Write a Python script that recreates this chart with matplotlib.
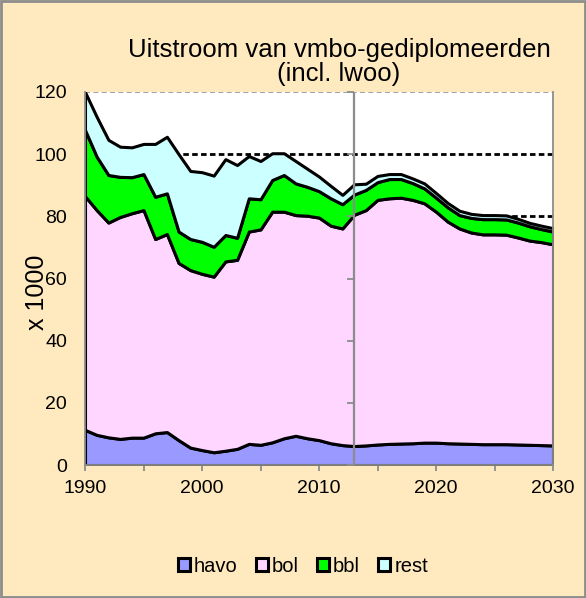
import matplotlib
matplotlib.use("Agg")
import matplotlib.pyplot as plt
from matplotlib.patches import Rectangle
import numpy as np

plt.rcParams['font.family'] = ['Liberation Sans', 'DejaVu Sans']

years = list(range(1990, 2031))

# cumulative tops (x 1000)
havo = [11.3, 9.7, 8.9, 8.4, 8.8, 8.8, 10.2, 10.6, 8.0, 5.6,
        4.8, 4.1, 4.6, 5.2, 6.8, 6.5, 7.3, 8.6, 9.4, 8.6,
        8.0, 7.0, 6.4, 6.1, 6.3, 6.6, 6.8, 6.9, 7.0, 7.2,
        7.2, 7.0, 6.9, 6.8, 6.7, 6.7, 6.7, 6.6, 6.5, 6.4, 6.3]
bol_top = [86.5, 82.0, 78.0, 79.8, 81.0, 82.0, 72.7, 74.3, 65.0, 62.7,
           61.5, 60.6, 65.5, 66.0, 75.1, 75.8, 81.5, 81.5, 80.4, 80.2,
           79.6, 77.0, 76.1, 80.5, 82.0, 85.3, 85.8, 86.0, 85.3, 84.2,
           81.5, 78.3, 76.1, 74.8, 74.2, 74.2, 74.1, 73.2, 72.2, 71.7, 71.0]
bbl_top = [107.8, 99.2, 93.3, 92.7, 92.6, 93.6, 86.3, 87.4, 75.1, 72.7,
           71.8, 70.2, 74.0, 73.1, 85.8, 85.5, 91.7, 93.3, 90.6, 89.5,
           88.1, 85.8, 83.9, 87.0, 88.5, 91.0, 92.0, 92.0, 90.7, 89.0,
           86.0, 82.9, 80.4, 79.5, 79.1, 79.1, 79.0, 78.0, 76.8, 75.9, 75.1]
total = [120.0, 112.0, 104.6, 102.4, 102.2, 103.3, 103.3, 105.6, 100.0, 94.6,
         94.2, 93.1, 98.4, 96.5, 99.4, 97.8, 100.3, 100.3, 97.8, 95.3,
         92.8, 89.8, 86.9, 90.3, 90.5, 93.0, 93.6, 93.6, 92.2, 90.6,
         87.5, 84.3, 81.8, 80.8, 80.4, 80.4, 80.3, 79.2, 77.9, 77.0, 76.2]

bol = [b - h for b, h in zip(bol_top, havo)]
bbl = [b - o for b, o in zip(bbl_top, bol_top)]
rest = [t - b for t, b in zip(total, bbl_top)]

labels = ['havo', 'bol', 'bbl', 'rest']
colors = ['#9999FF', '#FFD6FF', '#00FF00', '#CCFFFF']
ref_levels = [100, 80]
split_year = 2013

bg = '#FFE9BF'
fig = plt.figure(figsize=(5.86, 5.98), dpi=100, facecolor=bg)
ax = fig.add_axes([85/586, 1-465/598, 468/586, 373/598])
ax.set_facecolor('white')

for lv in ref_levels:
    ax.axhline(lv, color='black', lw=2, linestyle=(0, (2, 1.2)), zorder=1)
ax.axhline(120, color='#909090', lw=1.2, linestyle=(0, (3, 2)), zorder=1)

polys = ax.stackplot(years, havo, bol, bbl, rest, colors=colors, labels=labels,
                     edgecolor='black', linewidth=2.2, zorder=2)

ax.axvline(split_year, color='#8C8C8C', lw=1.6, zorder=3)
ax.plot([split_year]*7, list(range(0, 121, 20)), linestyle='none', marker=0,
        markersize=5, color='#8C8C8C', markeredgewidth=1.3, zorder=3, clip_on=False)

ax.set_xlim(1990, 2030)
ax.set_ylim(0, 120)
ax.set_xticks(range(1990, 2031, 10))
ax.set_xticks(range(1990, 2031, 5), minor=True)
ax.set_yticks(range(0, 121, 20))
ax.tick_params(axis='x', which='both', length=4, width=1.3, color='#8C8C8C',
               labelsize=14, pad=7)
ax.tick_params(axis='y', length=0, labelsize=14, pad=13)
for s in ['top']:
    ax.spines[s].set_visible(False)
for s in ['left', 'right', 'bottom']:
    ax.spines[s].set_color('#8C8C8C')
    ax.spines[s].set_linewidth(1.3)

fig.text(339/586, 1-62/598, 'Uitstroom van vmbo-gediplomeerden\n(incl. lwoo)',
         ha='center', va='center', fontsize=18.5, linespacing=1.05)
fig.text(37/586, 1-292/598, 'x 1000', rotation=90, ha='center', va='center',
         fontsize=18)

fig.legend(handles=polys, labels=labels, loc='center', bbox_to_anchor=(303/586, 1-566/598),
           ncol=4, frameon=False, fontsize=14.5, handlelength=0.6, handleheight=0.6,
           handletextpad=0.2, columnspacing=0.9)

fig.add_artist(Rectangle((0.002, 0.002), 0.996, 0.996, transform=fig.transFigure,
                         fill=False, edgecolor='#8C8C8C', lw=2))

fig.savefig('out.png', dpi=100, facecolor=bg)
